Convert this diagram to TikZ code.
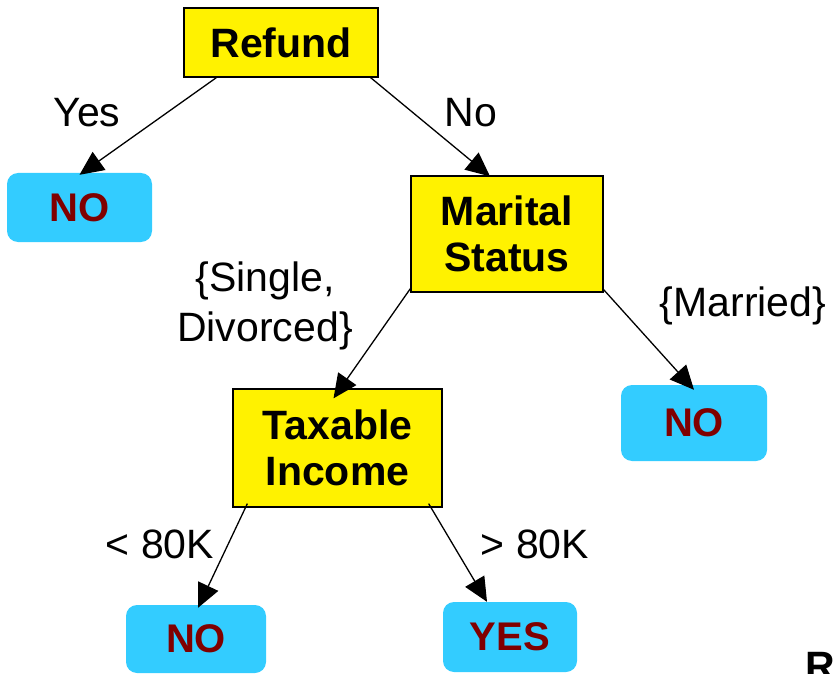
\documentclass[tikz,border=0pt]{standalone}
\usepackage{fontspec}
\setmainfont{Liberation Sans}
\usetikzlibrary{arrows.meta}
\definecolor{leafblue}{RGB}{51,204,255}
\definecolor{leafred}{RGB}{128,0,0}

\begin{document}
\begin{tikzpicture}[x=1pt,y=-1pt,
  test/.style={draw=black,line width=1.3pt,fill=yellow,inner sep=0pt,align=center,
    font=\fontsize{41}{46}\selectfont\bfseries},
  leaf/.style={fill=leafblue,rounded corners=11pt,inner sep=0pt,text=leafred,
    font=\fontsize{40}{44}\selectfont\bfseries},
  lbl/.style={inner sep=0pt,anchor=base,font=\fontsize{41}{50}\selectfont},
  edge/.style={line width=1.3pt,-{Triangle[length=24pt,width=22pt]}}]
\useasboundingbox (0,0) rectangle (833,674);

\node[test,minimum width=194pt,minimum height=69pt] (refund) at (281,42.5) {Refund};
\node[test,minimum width=192pt,minimum height=116pt] (marital) at (507,234) {Marital\\Status};
\node[test,minimum width=209pt,minimum height=118pt] (taxable) at (337.5,448) {Taxable\\Income};

\node[leaf,minimum width=145pt,minimum height=69pt] (no1) at (79.5,207.5) {NO};
\node[leaf,minimum width=146pt,minimum height=76pt] (no2) at (694,423) {NO};
\node[leaf,minimum width=140pt,minimum height=68pt] (no3) at (196,639) {NO};
\node[leaf,minimum width=134pt,minimum height=70pt] (yes) at (510,637) {YES};

\node[lbl] (lyes) at (87,127) {Yes};
\node[lbl] (lno) at (471,127) {No};
\node[lbl,anchor=center,align=center] (lsingle) at (265,306) {\{Single,\\Divorced\}};
\node[lbl] (lmarried) at (743,316) {\{Married\}};
\node[lbl] (lless) at (160,558) {< 80K};
\node[lbl] (lmore) at (535,558) {> 80K};
\node[lbl,anchor=base west,font=\fontsize{41}{46}\selectfont\bfseries] (lr) at (805,680) {R};

\draw[edge] ([xshift=33pt]refund.south west) -- ([yshift=-2pt]no1.north);
\draw[edge] ([xshift=-8pt]refund.south east) -- ([xshift=-17pt,yshift=-1pt]marital.north);
\draw[edge] ([yshift=4pt]marital.south west) -- ([xshift=-4pt,yshift=-10pt]taxable.north);
\draw[edge] ([yshift=3pt]marital.south east) -- ([yshift=-5pt]no2.north);
\draw[edge] ([xshift=15pt,yshift=4pt]taxable.south west) -- ([xshift=2pt,yshift=-3pt]no3.north);
\draw[edge] ([xshift=-14pt,yshift=4pt]taxable.south east) -- ([xshift=-23pt]yes.north);
\end{tikzpicture}
\end{document}
